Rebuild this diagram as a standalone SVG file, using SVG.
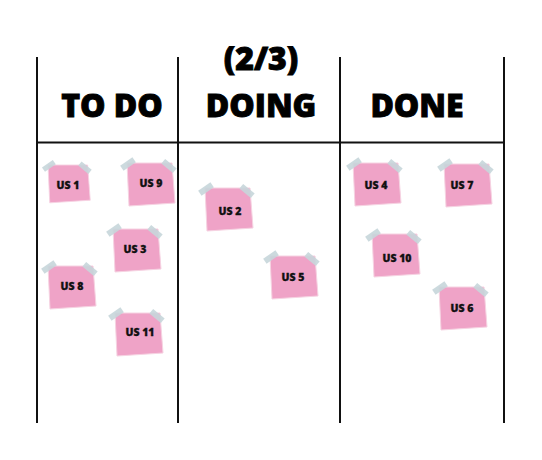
<svg xmlns="http://www.w3.org/2000/svg" width="542" height="460" viewBox="0 0 542 460">
<style>
.line{stroke:#111;stroke-width:2;fill:none}
.head{font-family:"Open Sans","DejaVu Sans",sans-serif;font-weight:800;font-size:32px;fill:#000;stroke:#000;stroke-width:0.9;text-anchor:middle}
.lbl{font-family:"Open Sans","DejaVu Sans",sans-serif;font-weight:800;font-size:10.5px;fill:#111;stroke:#111;stroke-width:0.3;text-anchor:middle;dominant-baseline:central}
.paper{fill:#EFA3C7;stroke:#F6D3E2;stroke-width:1}
.tape{fill:#C7D6DA;opacity:0.9}
</style>
<defs>
<g id="note">
<path class="paper" d="M0 0 L45 0 L48 40 L2 43 Z"/>
<rect class="tape" x="-7.5" y="-3" width="15" height="6" transform="translate(1,1) rotate(-35)"/>
<rect class="tape" x="-7.5" y="-3" width="15" height="6" transform="translate(42,3) rotate(40)"/>
</g>
</defs>
<rect width="542" height="460" fill="#fff"/>
<g id="board">
<line class="line" x1="37" y1="57" x2="37" y2="423"/>
<line class="line" x1="178" y1="57" x2="178" y2="423"/>
<line class="line" x1="340" y1="57" x2="340" y2="423"/>
<line class="line" x1="504" y1="57" x2="504" y2="423"/>
<line class="line" x1="37" y1="142.5" x2="504" y2="142.5"/>
</g>
<g id="headers">
<text class="head" x="112" y="117">TO DO</text>
<text class="head" x="261" y="70">(2/3)</text>
<text class="head" x="261" y="117">DOING</text>
<text class="head" x="417" y="117">DONE</text>
</g>
<g id="us1"><use href="#note" transform="translate(48,165) scale(0.88)"/><text class="lbl" x="68" y="185">US 1</text></g>
<g id="us9"><use href="#note" transform="translate(127,163)"/><text class="lbl" x="151" y="183">US 9</text></g>
<g id="us3"><use href="#note" transform="translate(113,229)"/><text class="lbl" x="135" y="249">US 3</text></g>
<g id="us8"><use href="#note" transform="translate(48,266)"/><text class="lbl" x="72" y="286">US 8</text></g>
<g id="us11"><use href="#note" transform="translate(115,313)"/><text class="lbl" x="140" y="332">US 11</text></g>
<g id="us2"><use href="#note" transform="translate(205,188)"/><text class="lbl" x="230" y="211">US 2</text></g>
<g id="us5"><use href="#note" transform="translate(270,256)"/><text class="lbl" x="293" y="277">US 5</text></g>
<g id="us4"><use href="#note" transform="translate(353,163)"/><text class="lbl" x="376" y="185">US 4</text></g>
<g id="us7"><use href="#note" transform="translate(444,164)"/><text class="lbl" x="462" y="185">US 7</text></g>
<g id="us10"><use href="#note" transform="translate(372,234)"/><text class="lbl" x="397" y="258">US 10</text></g>
<g id="us6"><use href="#note" transform="translate(439,287)"/><text class="lbl" x="462" y="308">US 6</text></g>
</svg>
